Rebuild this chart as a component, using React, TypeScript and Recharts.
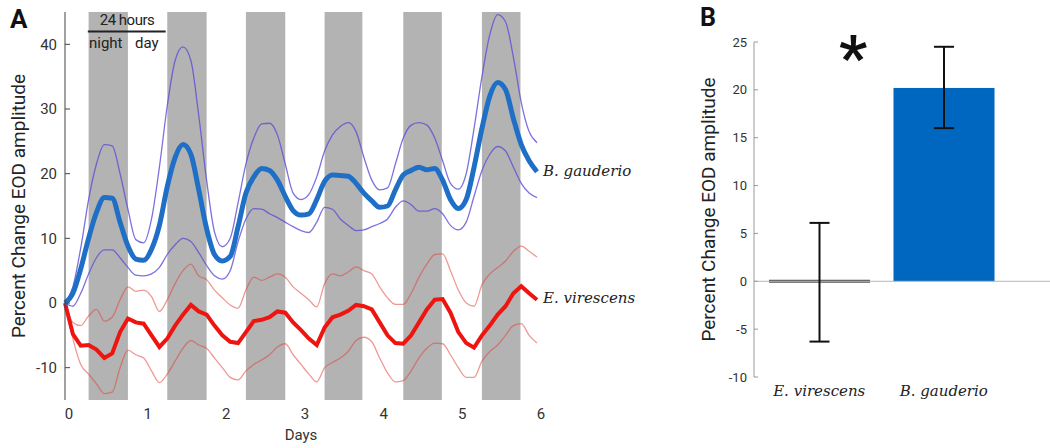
import {
  ComposedChart,
  Line,
  XAxis,
  YAxis,
  ReferenceArea,
  ReferenceLine,
  BarChart,
  Bar,
  ErrorBar,
  Cell,
} from 'recharts'

// ---- panel A: time course (days) ----
const DAYS = [
  0, 0.1, 0.2, 0.3, 0.4, 0.5, 0.6, 0.7, 0.8, 0.9,
  1, 1.1, 1.2, 1.3, 1.4, 1.5, 1.6, 1.7, 1.8, 1.9,
  2, 2.1, 2.2, 2.3, 2.4, 2.5, 2.6, 2.7, 2.8, 2.9,
  3, 3.1, 3.2, 3.3, 3.4, 3.5, 3.6, 3.7, 3.8, 3.9,
  4, 4.1, 4.2, 4.3, 4.4, 4.5, 4.6, 4.7, 4.8, 4.9,
  5, 5.1, 5.2, 5.3, 5.4, 5.5, 5.6, 5.7, 5.8, 5.9,
  6,
]

const GAUDERIO_MEAN = [
  0, 1.5, 5.3, 10.0, 14.0, 16.3, 16.2, 12.5, 8.8, 6.8,
  6.6, 8.3, 12.0, 18.0, 22.5, 24.5, 23.0, 17.5, 11.5, 7.5,
  6.5, 7.2, 11.8, 17.0, 19.5, 20.8, 20.5, 19.0, 16.5, 14.3,
  13.6, 13.8, 16.0, 18.8, 19.8, 19.7, 19.6, 18.5, 17.0, 15.8,
  14.8, 15.0, 17.5, 19.8, 20.5, 21.0, 20.6, 20.8, 19.0, 16.0,
  14.6, 16.0, 21.0, 27.0, 32.0, 34.1, 33.0, 28.5, 24.5, 22.0,
  20.3,
]
const GAUDERIO_UPPER = [
  0, 2.5, 8.5, 16.0, 21.5, 24.5, 24.3, 20.0, 14.5, 9.8,
  9.3, 13.0, 21.0, 30.5, 37.5, 39.6, 37.5, 29.0, 19.0, 11.0,
  8.7, 10.0, 15.5, 21.5, 25.5, 27.7, 27.8, 26.0, 21.5, 17.0,
  16.0, 16.8, 19.5, 23.5, 26.0, 27.3, 27.9, 26.5, 22.5, 19.0,
  17.5, 17.8, 21.5, 25.5, 27.5, 27.9, 27.5, 25.5, 22.0, 18.5,
  17.6, 20.0, 27.0, 35.0, 41.5, 44.6, 43.5, 38.0, 31.0, 26.5,
  24.8,
]
const GAUDERIO_LOWER = [
  0, -0.5, 1.5, 4.5, 7.0, 8.2, 8.2, 7.0, 5.5, 4.3,
  4.2, 4.5, 5.5, 7.5, 9.0, 10.0, 9.5, 7.8, 5.8, 4.2,
  3.7, 5.0, 9.5, 13.0, 14.6, 14.5, 13.8, 13.2, 12.5, 11.8,
  11.2, 10.9, 12.5, 14.8, 14.5, 13.0, 12.0, 11.2, 11.3, 11.8,
  12.3, 13.0, 14.8, 15.8, 15.2, 14.2, 14.2, 14.6, 13.8, 12.0,
  11.3, 12.5, 16.5, 20.5, 23.0, 24.2, 23.5, 21.0, 18.5, 17.0,
  16.3,
]
const VIRESCENS_MEAN = [
  0, -4.8, -6.6, -6.5, -7.2, -8.5, -7.8, -4.5, -2.4, -3.0,
  -3.2, -5.0, -6.8, -5.5, -3.5, -1.8, -0.3, -1.3, -1.8, -3.5,
  -5.0, -6.0, -6.2, -4.5, -2.8, -2.6, -2.2, -1.3, -1.5, -3.0,
  -4.2, -5.5, -6.5, -3.8, -2.2, -1.8, -1.2, -0.3, -0.5, -1.0,
  -3.0, -5.0, -6.2, -6.3, -5.0, -3.0, -1.0, 0.5, 0.6, -1.5,
  -4.5, -6.2, -6.9, -5.0, -3.5, -1.8, -0.5, 1.5, 2.6, 1.5,
  0.5,
]
const VIRESCENS_UPPER = [
  0, -3.0, -3.5, -2.0, -1.0, -2.8, -2.2, 0.5, 2.5, 1.8,
  2.0, 1.0, -1.3, 0.5, 3.0, 5.0, 6.0, 4.2, 3.6, 2.0,
  0.8, -0.3, -0.8, 2.0, 4.0, 3.5, 4.0, 4.5, 4.0, 2.5,
  1.5, 0.5, -0.6, 3.0, 4.5, 4.2, 4.8, 5.6, 5.0, 4.5,
  2.5, 0.8, -0.2, -0.2, 1.5, 4.0, 6.0, 7.5, 7.6, 5.0,
  2.0, 0.0, -0.5, 2.8, 4.5, 5.5, 6.5, 8.0, 8.8, 8.0,
  7.1,
]
const VIRESCENS_LOWER = [
  0, -5.5, -9.5, -11.0, -12.5, -14.0, -13.8, -10.0, -7.3, -8.0,
  -8.5, -10.5, -12.3, -11.0, -9.0, -7.0, -5.8, -6.5, -7.0, -8.5,
  -10.0, -11.5, -11.9, -10.5, -9.5, -8.8, -8.0, -6.8, -6.3, -8.0,
  -9.5, -11.0, -12.2, -10.0, -9.2, -8.5, -7.5, -5.8, -5.3, -6.0,
  -8.5, -10.8, -12.2, -12.0, -10.5, -8.5, -7.0, -6.2, -6.3, -8.0,
  -10.0, -11.5, -11.5, -9.0, -7.5, -6.5, -5.0, -3.5, -3.2, -5.0,
  -6.2,
]

// night periods (grey bars)
const NIGHT_START = [0.3, 1.3, 2.3, 3.3, 4.3, 5.3]
const NIGHT_END = [0.8, 1.8, 2.8, 3.78, 4.79, 5.79]

const DAY_TICKS = [0, 1, 2, 3, 4, 5, 6]
const PCT_TICKS_A = [-10, 0, 10, 20, 30, 40]

// ---- panel B: mean change ----
const SPECIES = ['E. virescens', 'B. gauderio']
const MEAN_CHANGE = [0, 20.2]
const ERR_LOW = [6.3, 4.2]
const ERR_HIGH = [6.1, 4.3]
const PCT_TICKS_B = [-10, -5, 0, 5, 10, 15, 20, 25]

const timeData = DAYS.map((d, i) => ({
  day: d,
  gMean: GAUDERIO_MEAN[i],
  gUp: GAUDERIO_UPPER[i],
  gLow: GAUDERIO_LOWER[i],
  vMean: VIRESCENS_MEAN[i],
  vUp: VIRESCENS_UPPER[i],
  vLow: VIRESCENS_LOWER[i],
}))

const barData = SPECIES.map((s, i) => ({
  name: s,
  value: MEAN_CHANGE[i],
  err: [ERR_LOW[i], ERR_HIGH[i]],
}))

const SANS = 'Roboto, "Noto Sans", sans-serif'
const SERIF = '"DejaVu Serif", serif'

// zero-height bar is drawn as its edge line (like matlab does)
function BarShape(props: any) {
  const { x, y, width, height, fill } = props
  if (!height || Math.abs(height) < 1) {
    return <line x1={x} x2={x + width} y1={y} y2={y} stroke="#555" strokeWidth={3} />
  }
  return <rect x={x} y={y} width={width} height={height} fill={fill} />
}

export default function App() {
  return (
    <div style={{ position: 'absolute', left: 0, top: 0, width: 1050, height: 448, background: '#fff', fontFamily: SANS }}>
      <div style={{ position: 'absolute', left: 0, top: 0 }}>
        <ComposedChart width={600} height={448} data={timeData} margin={{ top: 12, right: 63, left: 0, bottom: 0 }}>
          {NIGHT_START.map((s, i) => (
            <ReferenceArea key={i} x1={s} x2={NIGHT_END[i]} y1={-15} y2={45} fill="#b3b3b3" fillOpacity={1} stroke="none" />
          ))}
          <XAxis
            dataKey="day"
            type="number"
            domain={[0, 6]}
            ticks={DAY_TICKS}
            axisLine={false}
            tickLine={false}
            tickSize={0}
            tickMargin={8}
            height={48}
            tick={{ fill: '#333', fontSize: 15, dx: 4 }}
            label={{ value: 'Days', position: 'insideBottom', offset: 8, fill: '#333', fontSize: 15 }}
          />
          <YAxis
            type="number"
            domain={[-15, 45]}
            ticks={PCT_TICKS_A}
            width={65}
            axisLine={{ stroke: '#444' }}
            tickLine={{ stroke: '#444' }}
            tickSize={-5}
            tickMargin={13}
            tick={{ fill: '#333', fontSize: 15 }}
            label={{
              value: 'Percent Change EOD amplitude',
              angle: -90,
              position: 'insideLeft',
              offset: 18,
              style: { textAnchor: 'middle', fill: '#222', fontSize: 19 },
            }}
          />
          <ReferenceLine
            segment={[{ x: 0.29, y: 42 }, { x: 1.28, y: 42 }]}
            stroke="#222"
            strokeWidth={2}
            ifOverflow="visible"
          />
          <Line dataKey="vUp" type="monotone" stroke="#e2433c" strokeOpacity={0.55} strokeWidth={1.3} dot={false} isAnimationActive={false} />
          <Line dataKey="vLow" type="monotone" stroke="#e2433c" strokeOpacity={0.55} strokeWidth={1.3} dot={false} isAnimationActive={false} />
          <Line dataKey="vMean" type="linear" stroke="#ee1410" strokeWidth={4} dot={false} isAnimationActive={false} />
          <Line dataKey="gUp" type="monotone" stroke="#5a4fd6" strokeOpacity={0.8} strokeWidth={1.3} dot={false} isAnimationActive={false} />
          <Line dataKey="gLow" type="monotone" stroke="#5a4fd6" strokeOpacity={0.8} strokeWidth={1.3} dot={false} isAnimationActive={false} />
          <Line dataKey="gMean" type="monotone" stroke="#1f6fc6" strokeWidth={5} dot={false} isAnimationActive={false} />
        </ComposedChart>

        {/* annotations */}
        <div style={{ position: 'absolute', left: 10, top: 4, fontSize: 26, fontWeight: 700, color: '#111' }}>A</div>
        <div style={{ position: 'absolute', left: 88, width: 78, top: 11, textAlign: 'center', fontSize: 15, color: '#222', letterSpacing: -0.5 }}>24 hours</div>
        <div style={{ position: 'absolute', left: 89, top: 34, fontSize: 15, color: '#222' }}>night</div>
        <div style={{ position: 'absolute', left: 135, top: 34, fontSize: 15, color: '#222' }}>day</div>
        <div style={{ position: 'absolute', left: 543, top: 162, fontSize: 15, fontStyle: 'italic', fontFamily: SERIF, color: '#222', whiteSpace: 'nowrap' }}>B. gauderio</div>
        <div style={{ position: 'absolute', left: 543, top: 289, fontSize: 15, fontStyle: 'italic', fontFamily: SERIF, color: '#222', whiteSpace: 'nowrap' }}>E. virescens</div>
      </div>

      <div style={{ position: 'absolute', left: 600, top: 0 }}>
        <BarChart width={450} height={448} data={barData} margin={{ top: 42, right: 0, left: 0, bottom: 0 }}>
          <XAxis
            dataKey="name"
            padding={{ left: 3, right: 44 }}
            axisLine={false}
            tickLine={false}
            tickSize={0}
            tickMargin={8}
            height={71}
            tick={{ fill: '#222', fontSize: 15, fontStyle: 'italic', fontFamily: SERIF }}
          />
          <YAxis
            type="number"
            domain={[-10, 25]}
            ticks={PCT_TICKS_B}
            width={154}
            axisLine={{ stroke: '#999' }}
            tickLine={{ stroke: '#999' }}
            tickSize={-4}
            tickMargin={11}
            tick={{ fill: '#333', fontSize: 13 }}
            label={{
              value: 'Percent Change EOD amplitude',
              angle: -90,
              position: 'insideLeft',
              offset: 108,
              style: { textAnchor: 'middle', fill: '#222', fontSize: 19 },
            }}
          />
          <ReferenceLine y={0} stroke="#b5b5b5" strokeWidth={1} />
          <Bar dataKey="value" barSize={101} shape={<BarShape />} isAnimationActive={false}>
            {barData.map((d, i) => (
              <Cell key={i} fill={i === 1 ? '#0067c0' : '#555'} />
            ))}
            <ErrorBar dataKey="err" width={10} stroke="#111" strokeWidth={2} direction="y" />
          </Bar>
        </BarChart>
        <div style={{ position: 'absolute', left: 100, top: 3, fontSize: 25, fontWeight: 700, color: '#111' }}>B</div>
        <div style={{ position: 'absolute', left: 239, top: 27, fontSize: 62, fontWeight: 700, lineHeight: '62px', color: '#111' }}>*</div>
      </div>
    </div>
  )
}
